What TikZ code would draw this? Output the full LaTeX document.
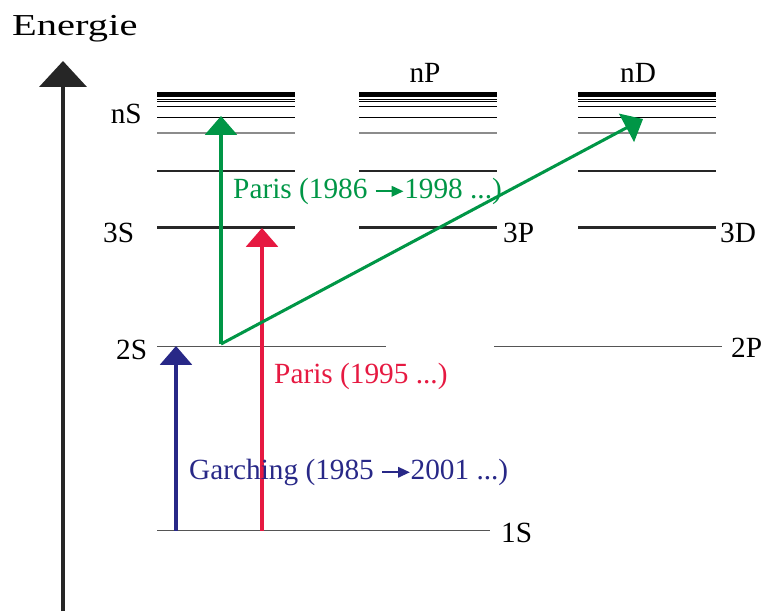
\documentclass[tikz,border=0pt]{standalone}
\usepackage{fontspec}
\setmainfont{Liberation Serif}
\usetikzlibrary{arrows.meta}
\definecolor{lvlgrey}{RGB}{85,85,85}
\definecolor{lvldark}{RGB}{40,40,40}
\definecolor{trgreen}{RGB}{0,150,70}
\definecolor{trred}{RGB}{230,25,65}
\definecolor{trblue}{RGB}{40,40,135}
\newcommand{\yrarr}[1]{\tikz[baseline=-0.5ex]\draw[#1,line width=1.4pt,-{Triangle[length=10pt,width=9pt]}] (0,0) -- (0.95em,0);}

\begin{document}
\begin{tikzpicture}[
      x=0.03cm, y=-0.03cm,
      lbl/.style={font=\fontsize{25}{29}\selectfont, inner sep=0pt},
      lvl/.style={line width=0.9pt, color=lvlgrey},
      lvlthick/.style={line width=1.8pt, color=lvldark},
      trans/.style={line width=2.6pt, -{Triangle[length=16pt,width=27pt]}},
      axis/.style={line width=2.6pt, color=black!85, -{Triangle[length=22pt,width=40pt]}}
    ]
      \useasboundingbox (0,0) rectangle (764,611);

      % energy axis
      \coordinate (axb) at (63,611);
      \coordinate (axt) at (63,61);
      \draw[axis] (axb) -- (axt);
      \node[lbl, anchor=base west, font=\fontsize{26}{29}\selectfont] (energie) at (12,35) {\scalebox{1.33}[1]{Energie}};

      % Rydberg series S, P, D
      \foreach \x in {157,359,578} {
        \draw[line width=3.8pt, black] (\x,94.5) -- ++(138,0);
        \draw[line width=0.8pt, black] (\x,99) -- ++(138,0);
        \draw[line width=0.8pt, black] (\x,101.3) -- ++(138,0);
        \draw[line width=1pt, black] (\x,106.3) -- ++(138,0);
        \draw[line width=1.3pt, black] (\x,117.7) -- ++(138,0);
        \draw[line width=1pt, black!45] (\x,133) -- ++(138,0);
        \draw[line width=0.9pt, black!85] (\x,171) -- ++(138,0);
        \draw[lvlthick] (\x,227.5) -- ++(138,0);
      }

      % low levels
      \draw[lvl] (157,346.5) -- (386,346.5);
      \draw[lvl] (494,346.5) -- (722,346.5);
      \draw[lvl] (157,530.5) -- (490,530.5);

      % level names
      \node[lbl, anchor=base east] (nS) at (142,123) {nS};
      \node[lbl, anchor=base] (nP) at (425,82) {nP};
      \node[lbl, anchor=base] (nD) at (638,82) {nD};
      \node[lbl, anchor=base west] (s3) at (103,242) {3S};
      \node[lbl, anchor=base west] (p3) at (503,242) {3P};
      \node[lbl, anchor=base west] (d3) at (720,242) {3D};
      \node[lbl, anchor=base west] (s2) at (116,359) {2S};
      \node[lbl, anchor=base west] (p2) at (731,357) {2P};
      \node[lbl, anchor=base west] (s1) at (501,542) {1S};

      % transitions
      \coordinate (blo) at (176,530.5);
      \coordinate (bhi) at (176,346);
      \coordinate (rlo) at (262,530.5);
      \coordinate (rhi) at (262,228);
      \coordinate (gcorner) at (221,344);
      \coordinate (gS) at (221,116);
      \coordinate (gD) at (643,119);

      \draw[trans, trblue] (blo) -- (bhi);
      \draw[trans, trred] (rlo) -- (rhi);
      \draw[trans, trgreen] (gcorner) -- (gS);
      \draw[trans, trgreen] (gcorner) -- (gD);

      \node[lbl, anchor=base west, text=trgreen] (paris1) at (233,198)
        {Paris (1986 \yrarr{trgreen}1998 ...)};
      \node[lbl, anchor=base west, text=trred] (paris2) at (274,383)
        {Paris (1995 ...)};
      \node[lbl, anchor=base west, text=trblue] (garching) at (189,479)
        {Garching (1985 \yrarr{trblue}2001 ...)};
    \end{tikzpicture}
\end{document}
